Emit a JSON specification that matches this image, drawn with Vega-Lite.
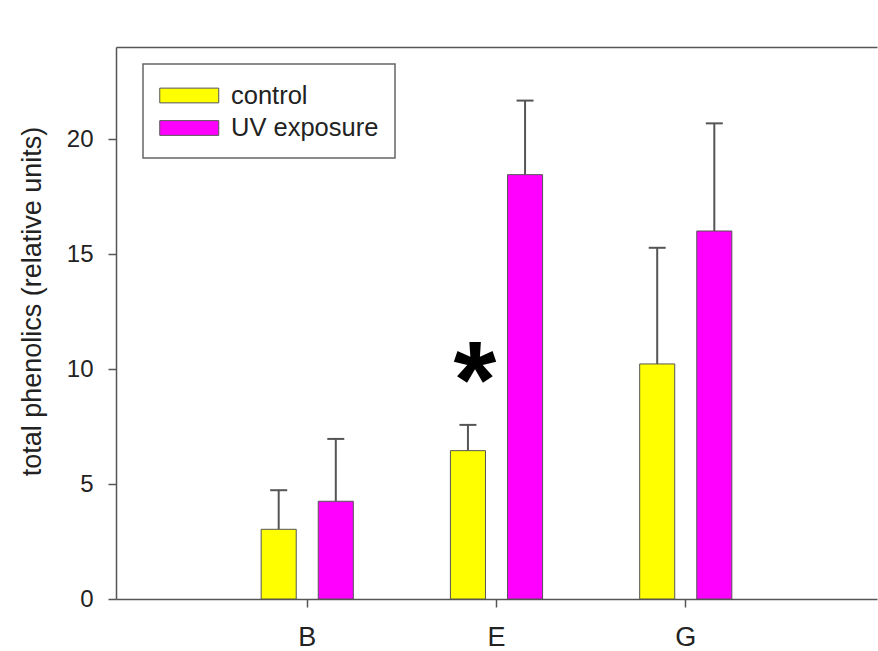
{
  "$schema": "https://vega.github.io/schema/vega-lite/v6.json",
  "width": 761,
  "height": 552,
  "autosize": {"type": "none"},
  "padding": {"left": 116, "top": 47, "right": 1, "bottom": 52},
  "background": "#ffffff",
  "config": {
    "font": "Liberation Sans",
    "view": {"stroke": null},
    "axis": {
      "domainColor": "#555555",
      "domainWidth": 1.5,
      "tickColor": "#555555",
      "tickWidth": 1.5,
      "tickSize": 8,
      "grid": false,
      "labelColor": "#222222",
      "labelFont": "Liberation Sans",
      "titleFont": "Liberation Sans",
      "titleColor": "#222222",
      "titleFontWeight": "normal"
    },
    "legend": {
      "orient": "none",
      "legendX": 27,
      "legendY": 17,
      "padding": 16,
      "strokeColor": "#666666",
      "strokeWidth": 1.5,
      "fillColor": "#ffffff",
      "labelFont": "Liberation Sans",
      "labelFontSize": 25.5,
      "labelColor": "#222222",
      "labelOffset": 41,
      "rowPadding": 3.5,
      "symbolType": "M-1,-0.5H3V0.5H-1Z",
      "symbolSize": 870,
      "symbolStrokeColor": "#555555",
      "symbolStrokeWidth": 1,
      "symbolOpacity": 1
    }
  },
  "datasets": {
    "bars": [
      {"group": "B", "treatment": "control", "value": 3.03, "upper": 4.73},
      {"group": "B", "treatment": "UV exposure", "value": 4.25, "upper": 6.96},
      {"group": "E", "treatment": "control", "value": 6.45, "upper": 7.57},
      {"group": "E", "treatment": "UV exposure", "value": 18.45, "upper": 21.67},
      {"group": "G", "treatment": "control", "value": 10.22, "upper": 15.27},
      {"group": "G", "treatment": "UV exposure", "value": 16.0, "upper": 20.68}
    ],
    "notes": [
      {"group": "E", "treatment": "control", "y": 7.9, "label": "*"}
    ]
  },
  "encoding": {
    "x": {
      "field": "group",
      "type": "nominal",
      "scale": {"domain": ["B", "E", "G"], "paddingInner": 0.513, "paddingOuter": 0.767},
      "axis": null
    },
    "xOffset": {
      "field": "treatment",
      "type": "nominal",
      "scale": {"domain": ["control", "UV exposure"], "paddingInner": 0.386, "paddingOuter": 0}
    }
  },
  "resolve": {"axis": {"x": "independent"}},
  "layer": [
    {
      "data": {"name": "bars"},
      "mark": {"type": "rule", "color": "#555555", "strokeWidth": 2},
      "encoding": {
        "y": {"field": "value", "type": "quantitative"},
        "y2": {"field": "upper"}
      }
    },
    {
      "data": {"name": "bars"},
      "mark": {"type": "tick", "orient": "horizontal", "color": "#555555", "thickness": 2, "size": 17, "opacity": 1},
      "encoding": {
        "y": {"field": "upper", "type": "quantitative"}
      }
    },
    {
      "data": {"name": "bars"},
      "mark": {"type": "bar", "stroke": "#555555", "strokeWidth": 1, "opacity": 1},
      "encoding": {
        "x": {
          "field": "group",
          "type": "nominal",
          "axis": {"orient": "bottom", "title": null, "labelAngle": 0, "labelFontSize": 27, "labelPadding": 17}
        },
        "y": {
          "field": "value",
          "type": "quantitative",
          "scale": {"domain": [0, 24], "nice": false},
          "axis": {
            "values": [0, 5, 10, 15, 20],
            "labelFontSize": 24,
            "labelPadding": 15,
            "title": "total phenolics (relative units)",
            "titleFontSize": 27,
            "titleAngle": 270,
            "titleX": -84,
            "titleY": 254,
            "titleAlign": "center",
            "titleBaseline": "middle"
          }
        },
        "color": {
          "field": "treatment",
          "type": "nominal",
          "scale": {"domain": ["control", "UV exposure"], "range": ["#ffff00", "#ff00ff"]},
          "legend": {"title": null}
        }
      }
    },
    {
      "data": {"name": "notes"},
      "mark": {"type": "text", "fontSize": 110, "fontWeight": "bold", "color": "#000000", "align": "center", "baseline": "alphabetic", "font": "Liberation Sans", "dx": 7},
      "encoding": {
        "y": {"field": "y", "type": "quantitative"},
        "text": {"field": "label"}
      }
    },
    {
      "data": {"name": "bars"},
      "mark": {"type": "rule", "opacity": 0},
      "encoding": {
        "x": {
          "field": "group",
          "type": "nominal",
          "axis": {"orient": "top", "title": null, "labels": false, "ticks": false, "domain": true}
        },
        "y": {"field": "value", "type": "quantitative"}
      }
    }
  ]
}
